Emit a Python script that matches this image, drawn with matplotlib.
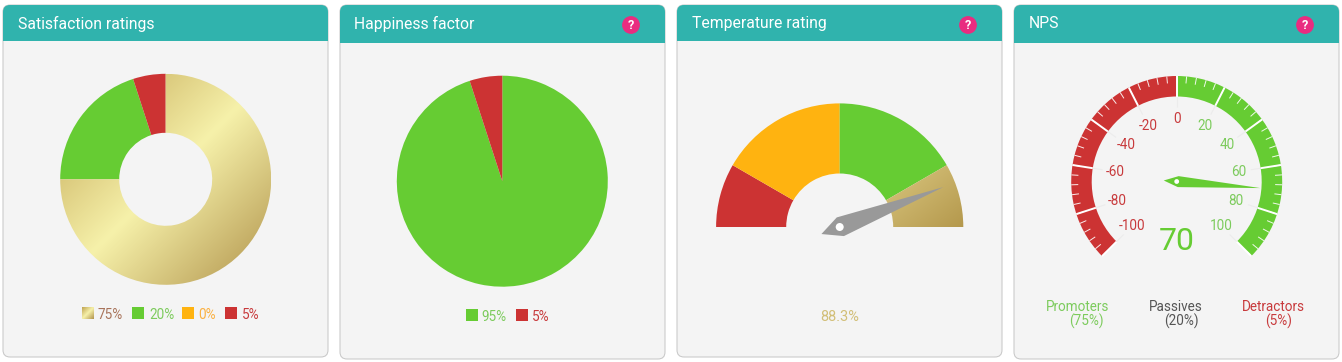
import numpy as np
import matplotlib
matplotlib.use('Agg')
import matplotlib.pyplot as plt
from matplotlib.colors import LinearSegmentedColormap
from matplotlib.patches import FancyBboxPatch, Rectangle, Circle, Polygon

plt.rcParams['font.family'] = ['Roboto', 'DejaVu Sans']

# data
satisfaction_values = [75, 20, 0, 5]
satisfaction_labels = ['75%', '20%', '0%', '5%']
happiness_values = [95, 5]
happiness_labels = ['95%', '5%']
temperature_bands = [16.67, 33.33, 33.33, 16.67]
temperature_value = 88.3
nps_bands = [100, 100]
nps_value = 70
nps_major = [-100, -80, -60, -40, -20, 0, 20, 40, 60, 80, 100]
nps_minor = np.arange(-100, 101, 4)
panel_titles = ['Satisfaction ratings', 'Happiness factor', 'Temperature rating', 'NPS']
nps_groups = ['Promoters', 'Passives', 'Detractors']
nps_shares = ['(75%)', '(20%)', '(5%)']

GREEN = '#66cc33'
RED = '#cc3333'
ORANGE = '#ffb310'
TEAL = '#30b3ad'
PANEL = '#f4f4f4'
GOLD = ['#bfa24f', '#f6f1aa', '#b0924a']
GOLD_SIDE = ['#dac780', '#b4984c']
GREEN_TXT = '#7ccb5c'
RED_TXT = '#c83a3c'

W, H = 1342, 362
fig = plt.figure(figsize=(W/100, H/100), dpi=100, facecolor='white')
bg = fig.add_axes([0, 0, 1, 1])
bg.set_xlim(0, W)
bg.set_ylim(H, 0)
bg.axis('off')


def px(size):
    return size*0.72


def gold_fill(ax, patch, extent, stops, zorder=2):
    # diagonal gradient clipped to the patch
    xx, yy = np.meshgrid(np.linspace(0, 1, 200), np.linspace(0, 1, 200))
    cmap = LinearSegmentedColormap.from_list('gold', stops)
    xlim, ylim = ax.get_xlim(), ax.get_ylim()
    im = ax.imshow((xx + yy)/2, extent=extent, origin='upper', cmap=cmap, vmin=0, vmax=1,
                   aspect='auto', zorder=zorder, interpolation='bilinear')
    im.set_clip_path(patch)
    ax.set_xlim(xlim)
    ax.set_ylim(ylim)


def chart_axes(cx, cy, half):
    # axes whose units are pixels around the chart centre
    ax = fig.add_axes([(cx-half)/W, 1-(cy+half)/H, 2*half/W, 2*half/H])
    ax.set_xlim(-half, half)
    ax.set_ylim(-half, half)
    ax.axis('off')
    return ax


def panel(x0, x1, bottom, head, title, helper=True):
    bg.add_patch(FancyBboxPatch((x0, 5), x1-x0, bottom-5, boxstyle='round,pad=0,rounding_size=7',
                                fc=PANEL, ec='#c8c8c8', lw=0.75))
    bg.add_patch(FancyBboxPatch((x0, 5), x1-x0, 20, boxstyle='round,pad=0,rounding_size=7',
                                fc=TEAL, ec='none'))
    bg.add_patch(Rectangle((x0, 15), x1-x0, head-15, fc=TEAL, ec='none'))
    bg.text(x0+14.5, 23.8, title, color='white', fontsize=px(15.8), ha='left', va='center')
    if helper:
        bg.add_patch(Circle((x1-34, 25), 8.9, fc='#e92c80', ec='none'))
        bg.text(x1-34, 25.3, '?', color='white', fontsize=px(12.5), fontweight='bold',
                ha='center', va='center')


panel(3, 328, 357, 41, panel_titles[0], helper=False)
panel(340, 665, 359, 43, panel_titles[1])
panel(677, 1002, 357, 41, panel_titles[2])
panel(1014, 1339, 359, 43, panel_titles[3])

# Satisfaction donut
ax = chart_axes(165.7, 179.3, 120)
R = 105.5
wedges, _ = ax.pie(satisfaction_values, colors=['none', GREEN, ORANGE, RED], startangle=90,
                   counterclock=False, radius=R, wedgeprops=dict(width=R-46.5, lw=0))
ax.set_xlim(-120, 120)
ax.set_ylim(-120, 120)
gold_fill(ax, wedges[0], (-R, R, -R, R), GOLD)

legend_swatch = [82.3, 132.3, 182.3, 225]
legend_text = [98, 149, 198.3, 242]
legend_col = [GOLD[0], GREEN, ORANGE, RED]
legend_txt_col = ['#a8735a', GREEN_TXT, '#fbb040', RED_TXT]
for i, lab in enumerate(satisfaction_labels):
    sw = Rectangle((legend_swatch[i], 307.3), 12, 12, fc=legend_col[i], ec='none')
    bg.add_patch(sw)
    if i == 0:
        gold_fill(bg, sw, (legend_swatch[i], legend_swatch[i]+12, 319.3, 307.3), GOLD)
    bg.text(legend_text[i], 314.6, lab, color=legend_txt_col[i], fontsize=px(13.5),
            ha='left', va='center')

# Happiness pie
ax = chart_axes(502.3, 181.2, 120)
ax.pie(happiness_values, colors=[GREEN, RED], startangle=90, counterclock=False, radius=R,
       wedgeprops=dict(lw=0))
ax.set_xlim(-120, 120)
ax.set_ylim(-120, 120)
for i, lab in enumerate(happiness_labels):
    bg.add_patch(Rectangle(([466, 516][i], 309.3), 12, 12, fc=[GREEN, RED][i], ec='none'))
    bg.text([481.7, 532.3][i], 316.8, lab, color=[GREEN_TXT, RED_TXT][i], fontsize=px(13.5),
            ha='left', va='center')

# Temperature gauge
ax = chart_axes(839.7, 227, 135)
R = 123.6
bands = temperature_bands + [sum(temperature_bands)]
wedges, _ = ax.pie(bands, colors=[RED, ORANGE, GREEN, 'none', 'none'], startangle=180,
                   counterclock=False, radius=R, wedgeprops=dict(width=R-53.5, lw=0))
ax.set_xlim(-135, 135)
ax.set_ylim(-135, 135)
gold_fill(ax, wedges[3], (46, R, 0, 62), GOLD_SIDE)
ang = np.radians(180*(1-temperature_value/100))
u = np.array([np.cos(ang), np.sin(ang)])
n = np.array([-u[1], u[0]])
needle = [111*u, 10*n+0.7*u, -19.6*u, -10*n+0.7*u]
ax.add_patch(Polygon(needle, fc='#999999', ec='none', zorder=4))
ax.add_patch(Circle((0, 0), 4, fc='white', ec='none', zorder=5))
bg.text(840, 317.3, '%.1f%%' % temperature_value, color='#d2bf78', fontsize=px(14.5),
        ha='center', va='center')

# NPS gauge
ax = chart_axes(1176.7, 181.5, 120)
R, r_in = 105.5, 85
hidden = sum(nps_bands)/3
ax.pie(nps_bands + [hidden], colors=[RED, GREEN, 'none'], startangle=225, counterclock=False,
       radius=R, wedgeprops=dict(width=R-r_in, lw=0))
ax.set_xlim(-120, 120)
ax.set_ylim(-120, 120)


def nps_angle(v):
    return np.radians(90 - 135*v/100)


for v in nps_minor:
    a = nps_angle(v)
    ax.plot([(R-7)*np.cos(a), R*np.cos(a)], [(R-7)*np.sin(a), R*np.sin(a)], color='white',
            lw=0.7, alpha=0.9, zorder=3, solid_capstyle='butt')
for v in nps_major:
    a = nps_angle(v)
    ax.plot([(r_in-10)*np.cos(a), r_in*np.cos(a)], [(r_in-10)*np.sin(a), r_in*np.sin(a)],
            color='#ececec', lw=0.8, zorder=2, solid_capstyle='butt')
    ax.plot([r_in*np.cos(a), R*np.cos(a)], [r_in*np.sin(a), R*np.sin(a)], color='white',
            lw=1.4, zorder=3, solid_capstyle='butt')
    ax.text(62.5*np.cos(a), 62.5*np.sin(a), str(v), color=RED_TXT if v <= 0 else GREEN_TXT,
            fontsize=px(13.5), ha='center', va='center', zorder=4)
ang = nps_angle(nps_value)
u = np.array([np.cos(ang), np.sin(ang)])
n = np.array([-u[1], u[0]])
ax.add_patch(Polygon([84*u, 5.5*n+1.5*u, -13*u, -5.5*n+1.5*u], fc=GREEN, ec='none', zorder=5))
ax.add_patch(Circle((0, 0), 2.4, fc='white', ec='none', zorder=6))
bg.text(1176.7, 241.5, str(nps_value), color=GREEN, fontsize=px(32), ha='center', va='center', zorder=6)

group_x = [1046, 1149.3, 1242.3]
share_x = [1069.3, 1164, 1265.3]
group_col = [GREEN_TXT, '#555555', RED_TXT]
for i in range(3):
    bg.text(group_x[i], 306.7, nps_groups[i], color=group_col[i], fontsize=px(13.5), ha='left', va='center')
    bg.text(share_x[i], 321.7, nps_shares[i], color=group_col[i], fontsize=px(13.5), ha='left', va='center')

fig.savefig('out.png', dpi=100, facecolor='white')
